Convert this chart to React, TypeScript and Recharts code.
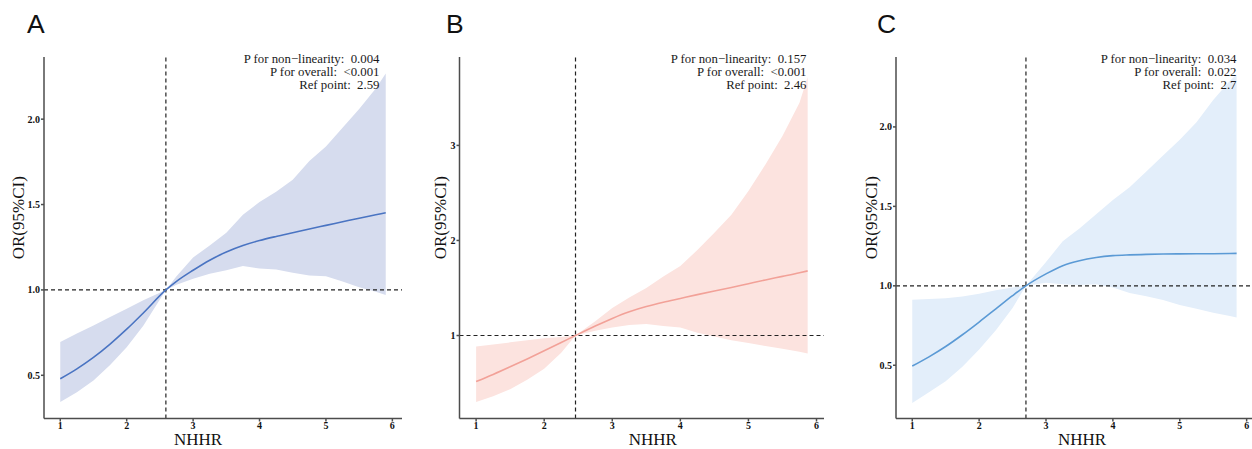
import React from "react"
import { ComposedChart, Area, Line, XAxis, YAxis, ReferenceLine, Label } from "recharts"

// ---------------------------------------------------------------------------
// Data (NHHR vs OR)
// ---------------------------------------------------------------------------

const xA = [1, 1.25, 1.5, 1.75, 2, 2.25, 2.59, 2.75, 3, 3.25, 3.5, 3.75, 4, 4.25, 4.5, 4.75, 5, 5.25, 5.5, 5.75, 5.9]
const estA = [0.48, 0.538, 0.605, 0.683, 0.77, 0.865, 1.0, 1.05, 1.115, 1.174, 1.222, 1.26, 1.289, 1.313, 1.335, 1.357, 1.378, 1.399, 1.42, 1.44, 1.452]
const loA = [0.343, 0.4, 0.47, 0.56, 0.664, 0.79, 1.0, 1.03, 1.065, 1.095, 1.115, 1.14, 1.125, 1.12, 1.1, 1.085, 1.08, 1.05, 1.015, 0.99, 0.97]
const hiA = [0.695, 0.745, 0.792, 0.842, 0.89, 0.94, 1.0, 1.08, 1.19, 1.26, 1.335, 1.44, 1.515, 1.575, 1.645, 1.755, 1.84, 1.95, 2.06, 2.18, 2.268]

const xB = [1, 1.25, 1.5, 1.75, 2, 2.25, 2.46, 2.75, 3, 3.25, 3.5, 3.75, 4, 4.25, 4.5, 4.75, 5, 5.25, 5.5, 5.75, 5.87]
const estB = [0.516, 0.591, 0.671, 0.754, 0.839, 0.926, 1.0, 1.1, 1.18, 1.25, 1.305, 1.35, 1.39, 1.43, 1.468, 1.505, 1.545, 1.585, 1.622, 1.66, 1.68]
const loB = [0.3, 0.36, 0.435, 0.535, 0.65, 0.82, 1.0, 1.05, 1.085, 1.11, 1.12, 1.1, 1.085, 1.03, 0.99, 0.95, 0.92, 0.89, 0.86, 0.83, 0.81]
const hiB = [0.884, 0.905, 0.928, 0.95, 0.972, 0.985, 1.0, 1.15, 1.29, 1.4, 1.5, 1.62, 1.73, 1.9, 2.08, 2.27, 2.52, 2.8, 3.1, 3.45, 3.72]

const xC = [1, 1.25, 1.5, 1.75, 2, 2.25, 2.5, 2.7, 3, 3.25, 3.5, 3.75, 4, 4.25, 4.5, 4.75, 5, 5.25, 5.5, 5.75, 5.85]
const estC = [0.495, 0.553, 0.618, 0.692, 0.772, 0.855, 0.938, 1.0, 1.075, 1.127, 1.158, 1.178, 1.19, 1.195, 1.198, 1.2, 1.201, 1.202, 1.202, 1.203, 1.204]
const loC = [0.263, 0.33, 0.4, 0.49, 0.6, 0.72, 0.86, 1.0, 1.02, 1.01, 1.005, 1.01, 0.99, 0.955, 0.935, 0.91, 0.88, 0.855, 0.83, 0.81, 0.8]
const hiC = [0.912, 0.917, 0.922, 0.932, 0.95, 0.972, 0.99, 1.0, 1.15, 1.28, 1.36, 1.45, 1.54, 1.62, 1.72, 1.82, 1.92, 2.03, 2.17, 2.29, 2.33]

const xTicks = [1, 2, 3, 4, 5, 6]
const yTicksA = [0.5, 1.0, 1.5, 2.0]
const yTicksB = [1, 2, 3]
const yTicksC = [0.5, 1.0, 1.5, 2.0]

const notesA = ["P for non\u2212linearity:  0.004", "P for overall:  <0.001", "Ref point:  2.59"]
const notesB = ["P for non\u2212linearity:  0.157", "P for overall:  <0.001", "Ref point:  2.46"]
const notesC = ["P for non\u2212linearity:  0.034", "P for overall:  0.022", "Ref point:  2.7"]

// ---------------------------------------------------------------------------
// Helpers
// ---------------------------------------------------------------------------

function rows(x: number[], est: number[], lo: number[], hi: number[]) {
  return x.map((v, i) => ({ x: v, est: est[i], band: [lo[i], hi[i]] }))
}

const SERIF = "'Liberation Serif', 'Times New Roman', serif"
const AXIS = "#4d4d4d"

interface PanelProps {
  letter: string
  left: number
  width: number
  yAxisW: number
  right: number
  data: { x: number; est: number; band: number[] }[]
  xDomain: [number, number]
  yDomain: [number, number]
  yTicks: number[]
  yFmt: (v: number) => string
  refX: number
  fill: string
  stroke: string
  notes: string[]
  notesRight: number
  letterLeft: number
  yTitleX: number
  xTitleDx: number
}

function Panel(p: PanelProps) {
  return (
    <>
      <div style={{ position: "absolute", left: p.left, top: 0 }}>
        <ComposedChart
          width={p.width}
          height={449}
          data={p.data}
          margin={{ top: 57, right: p.right, bottom: 0, left: 0 }}
        >
          <XAxis
            dataKey="x"
            type="number"
            domain={p.xDomain}
            ticks={xTicks}
            allowDataOverflow
            height={30.5}
            stroke={AXIS}
            strokeWidth={1.5}
            tickSize={3}
            tickMargin={0}
            tick={{ fill: "#111", fontSize: 10, fontWeight: "bold", fontFamily: SERIF }}
          >
            <Label
              value="NHHR"
              position="insideBottom"
              offset={4}
              dx={p.xTitleDx}
              style={{ fontFamily: SERIF, fontSize: 17, fontWeight: "normal", fill: "#111" }}
            />
          </XAxis>
          <YAxis
            type="number"
            domain={p.yDomain}
            ticks={p.yTicks}
            allowDataOverflow
            width={p.yAxisW}
            stroke={AXIS}
            strokeWidth={1.5}
            tickSize={3}
            tickMargin={1}
            tickFormatter={p.yFmt}
            tick={{ fill: "#111", fontSize: 10, fontWeight: "bold", fontFamily: SERIF }}
          >
            <Label
              value="OR(95%CI)"
              position="insideLeft"
              angle={-90}
              offset={p.yTitleX}
              dy={-20}
              style={{ fontFamily: SERIF, fontSize: 17, fontWeight: "normal", fill: "#111", textAnchor: "middle" }}
            />
          </YAxis>

          {/* IC 95% */}
          <Area
            type="linear"
            dataKey="band"
            stroke="none"
            fill={p.fill}
            fillOpacity={1}
            isAnimationActive={false}
          />

          <ReferenceLine y={1} stroke="#222" strokeDasharray="4 3" strokeWidth={1.2} />
          <ReferenceLine x={p.refX} stroke="#222" strokeDasharray="4 3" strokeWidth={1.2} />

          <Line
            type="monotone"
            dataKey="est"
            stroke={p.stroke}
            strokeWidth={1.6}
            dot={false}
            activeDot={false}
            isAnimationActive={false}
          />
        </ComposedChart>
      </div>

      <div
        style={{
          position: "absolute",
          left: p.letterLeft,
          top: 10.6,
          fontFamily: "'Liberation Sans', Arial, sans-serif",
          fontSize: 26.5,
          lineHeight: "26.5px",
          color: "#111",
        }}
      >
        {p.letter}
      </div>

      <div
        style={{
          position: "absolute",
          right: 1252 - p.notesRight,
          top: 52.5,
          fontFamily: SERIF,
          fontSize: 12.8,
          lineHeight: "13.2px",
          textAlign: "right",
          whiteSpace: "pre",
          color: "#1a1a1a",
        }}
      >
        {p.notes.map((n) => (
          <div key={n}>{n}</div>
        ))}
      </div>
    </>
  )
}

export default function App() {
  const one = (v: number) => v.toFixed(1)
  const int = (v: number) => String(v)
  return (
    <div
      style={{
        position: "absolute",
        left: 0,
        top: 0,
        width: 1252,
        height: 449,
        overflow: "hidden",
        background: "#fff",
      }}
    >
      <Panel
        letter="A"
        left={0}
        width={420}
        yAxisW={44}
        right={18}
        data={rows(xA, estA, loA, hiA)}
        xDomain={[0.755, 6.145]}
        yDomain={[0.247, 2.364]}
        yTicks={yTicksA}
        yFmt={one}
        refX={2.59}
        fill="#d6dcee"
        stroke="#4a74c2"
        notes={notesA}
        notesRight={379.5}
        letterLeft={27}
        yTitleX={18}
        xTitleDx={-25}
      />
      <Panel
        letter="B"
        left={420}
        width={415}
        yAxisW={39.5}
        right={11}
        data={rows(xB, estB, loB, hiB)}
        xDomain={[0.756, 6.11]}
        yDomain={[0.127, 3.93]}
        yTicks={yTicksB}
        yFmt={int}
        refX={2.46}
        fill="#fce3df"
        stroke="#f2a198"
        notes={notesB}
        notesRight={806.5}
        letterLeft={446}
        yTitleX={20}
        xTitleDx={11}
      />
      <Panel
        letter="C"
        left={835}
        width={419}
        yAxisW={61}
        right={0}
        data={rows(xC, estC, loC, hiC)}
        xDomain={[0.757, 6.11]}
        yDomain={[0.165, 2.44]}
        yTicks={yTicksC}
        yFmt={one}
        refX={2.7}
        fill="#e3eefa"
        stroke="#5b9ad5"
        notes={notesC}
        notesRight={1236.5}
        letterLeft={877}
        yTitleX={36}
        xTitleDx={7}
      />
    </div>
  )
}
